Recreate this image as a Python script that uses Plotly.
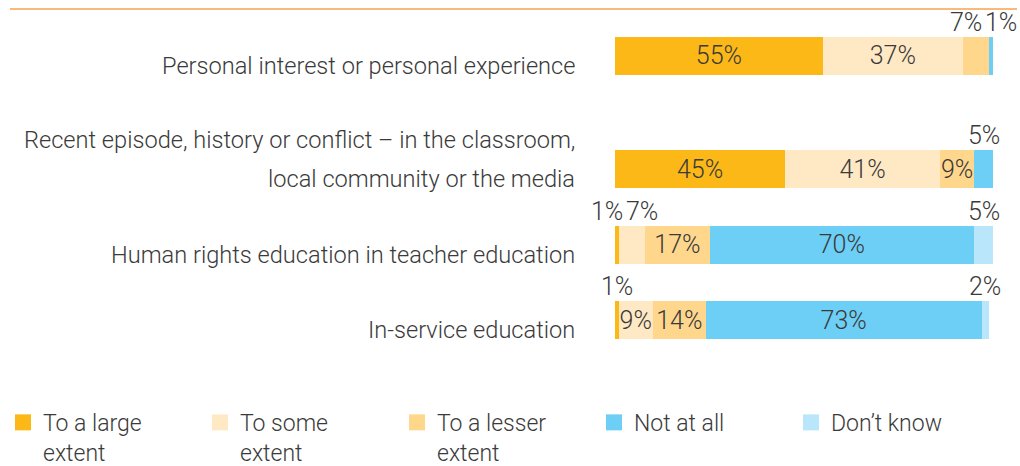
import plotly.graph_objects as go

categories = [
    "Personal interest or personal experience",
    "Recent episode, history or conflict – in the classroom,<br>local community or the media",
    "Human rights education in teacher education",
    "In-service education",
]
series_names = ["To a large<br>extent", "To some<br>extent", "To a lesser<br>extent", "Not at all", "Don’t know"]
large = [55, 45, 1, 1]
some = [37, 41, 7, 9]
lesser = [7, 9, 17, 14]
not_at_all = [1, 5, 70, 73]
dont_know = [0, 0, 5, 2]
colors = ["#FBB817", "#FFE9C5", "#FED78D", "#6DCFF6", "#B9E6FA"]

series = [large, some, lesser, not_at_all, dont_know]
TXT = "#3a3a3a"
FONT = "Roboto"
NUM_SIZE = 25
LBL_SIZE = 23.6
LEG_SIZE = 23

fig = go.Figure()
for name, vals, col in zip(series_names, series, colors):
    fig.add_trace(go.Bar(
        y=categories, x=vals, name=name, orientation="h",
        marker=dict(color=col, line=dict(width=0)),
        width=1.0, showlegend=False,
        text=[f"{v}%" if v >= 8 else "" for v in vals],
        textposition="inside", insidetextanchor="middle", constraintext="none",
        textangle=0,
        textfont=dict(color=TXT, size=NUM_SIZE, family=FONT, weight=300),
        hoverinfo="skip",
    ))
# legend entries (square swatches)
for name, col in zip(series_names, colors):
    fig.add_trace(go.Scatter(
        x=[None], y=[None], mode="markers", name=name,
        marker=dict(symbol="square", size=16, color=col),
        showlegend=True, hoverinfo="skip",
    ))

annotations = []
for ci, cat in enumerate(categories):
    cum = 0
    small = []
    for si, vals in enumerate(series):
        v = vals[ci]
        if 0 < v < 8:
            small.append((si, cum + v / 2, v))
        cum += v
    for k, (si, xc, v) in enumerate(small):
        shift = 0
        if k + 1 < len(small) and small[k + 1][0] == si + 1:
            shift = -10
        if k > 0 and small[k - 1][0] == si - 1:
            shift = 10
        annotations.append(dict(
            x=xc, y=cat, xref="x", yref="y", text=f"{v}%", showarrow=False,
            xanchor="center", yanchor="bottom", yshift=17, xshift=shift,
            font=dict(color=TXT, size=NUM_SIZE, family=FONT, weight=300),
        ))
    lines = cat.split("<br>")
    n = len(lines)
    for i, ln in enumerate(lines):
        annotations.append(dict(
            x=0, y=cat, xref="paper", yref="y", text=ln, showarrow=False,
            xanchor="right", yanchor="middle", xshift=-38,
            yshift=-10 + 39 * (n - 1 - i),
            font=dict(color=TXT, size=LBL_SIZE, family=FONT, weight=300),
        ))

cat_order = [categories[0], " ", "  ", categories[1], "   ", categories[2], "    ", categories[3]]

fig.update_layout(
    barmode="stack",
    width=1020, height=466,
    margin=dict(l=615, r=27, t=37, b=127, autoexpand=False),
    paper_bgcolor="white", plot_bgcolor="white",
    font=dict(family=FONT, color=TXT),
    xaxis=dict(range=[0, 100], visible=False, fixedrange=True),
    yaxis=dict(type="category", categoryorder="array", categoryarray=cat_order,
               range=[7.5, -0.5], showticklabels=False, showgrid=False,
               zeroline=False, showline=False, ticks="", fixedrange=True),
    showlegend=True,
    legend=dict(orientation="h", x=(3 - 615) / 378, xanchor="left", y=-0.205, yanchor="top",
                entrywidth=152, entrywidthmode="pixels", traceorder="normal", valign="top",
                font=dict(size=LEG_SIZE, family=FONT, weight=300, color=TXT),
                itemclick=False, itemdoubleclick=False),
    annotations=annotations,
    shapes=[dict(type="line", xref="paper", yref="paper",
                 x0=(10 - 615) / 378, x1=(1017 - 615) / 378,
                 y0=(339 - 9) / 302, y1=(339 - 9) / 302,
                 line=dict(color="#F9B97A", width=2))],
)

fig.write_html("out.html", config={"displayModeBar": False, "staticPlot": True},
               post_script="document.body.style.margin='0';document.body.style.overflow='hidden';")
